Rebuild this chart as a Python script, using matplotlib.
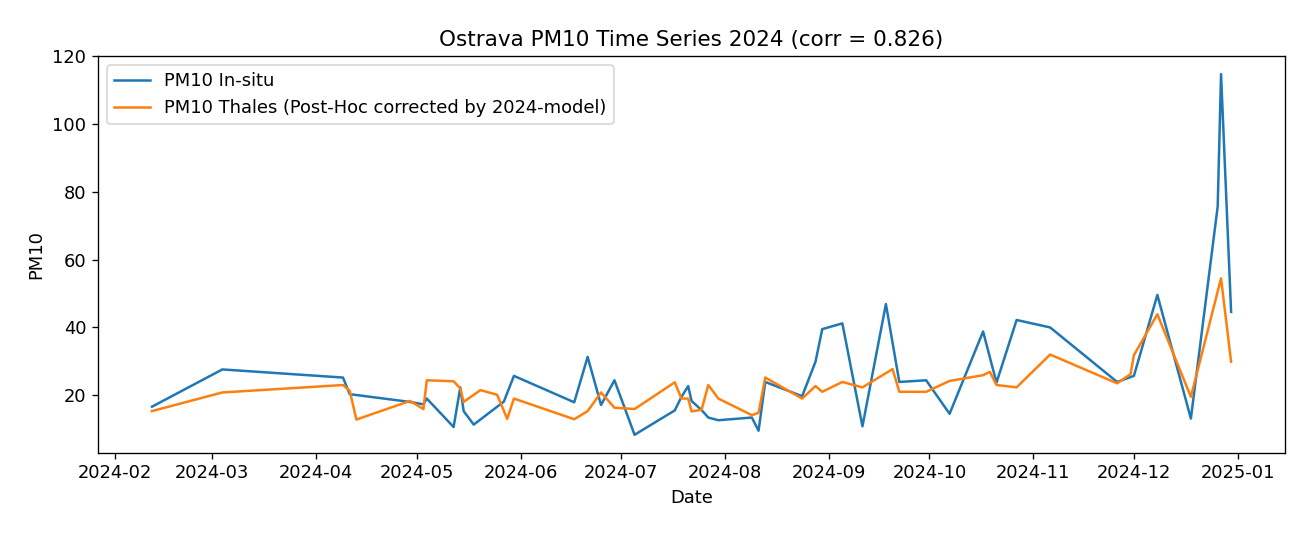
import pandas as pd
import matplotlib
matplotlib.use("Agg")
import matplotlib.pyplot as plt

# ── data ──────────────────────────────────────────────────────────────────────
insitu_dates = [
    "2024-02-12", "2024-03-04", "2024-04-09", "2024-04-11", "2024-04-29",
    "2024-05-03", "2024-05-04", "2024-05-12", "2024-05-14", "2024-05-15",
    "2024-05-18", "2024-05-27", "2024-05-30", "2024-06-17", "2024-06-21",
    "2024-06-25", "2024-06-29", "2024-07-05", "2024-07-17", "2024-07-19",
    "2024-07-21", "2024-07-22", "2024-07-25", "2024-07-27", "2024-07-30",
    "2024-08-09", "2024-08-11", "2024-08-13", "2024-08-24", "2024-08-28",
    "2024-08-30", "2024-09-05", "2024-09-11", "2024-09-18", "2024-09-22",
    "2024-09-30", "2024-10-07", "2024-10-17", "2024-10-21", "2024-10-27",
    "2024-11-06", "2024-11-26", "2024-12-01", "2024-12-08", "2024-12-18",
    "2024-12-26", "2024-12-27", "2024-12-30",
]
insitu_pm10 = [
    16.6, 27.6, 25.2, 20.3, 18.0,
    17.3, 19.0, 10.6, 22.3, 15.3,
    11.3, 18.1, 25.7, 17.9, 31.3,
    17.1, 24.4, 8.3, 15.5, 19.5,
    22.7, 18.3, 15.6, 13.4, 12.6,
    13.4, 9.5, 23.9, 19.7, 29.9,
    39.5, 41.2, 10.8, 46.9, 23.9,
    24.4, 14.5, 38.8, 23.7, 42.2,
    40.0, 23.9, 25.7, 49.6, 13.1,
    75.7, 114.8, 44.6,
]

thales_dates = [
    "2024-02-12", "2024-03-04", "2024-04-09", "2024-04-11", "2024-04-13",
    "2024-04-29", "2024-05-03", "2024-05-04", "2024-05-12", "2024-05-14",
    "2024-05-15", "2024-05-20", "2024-05-25", "2024-05-28", "2024-05-30",
    "2024-06-17", "2024-06-21", "2024-06-25", "2024-06-29", "2024-07-05",
    "2024-07-17", "2024-07-19", "2024-07-21", "2024-07-22", "2024-07-25",
    "2024-07-27", "2024-07-30", "2024-08-09", "2024-08-11", "2024-08-13",
    "2024-08-24", "2024-08-28", "2024-08-30", "2024-09-05", "2024-09-11",
    "2024-09-20", "2024-09-22", "2024-09-30", "2024-10-07", "2024-10-17",
    "2024-10-19", "2024-10-21", "2024-10-27", "2024-11-06", "2024-11-26",
    "2024-11-30", "2024-12-01", "2024-12-08", "2024-12-18", "2024-12-27",
    "2024-12-30",
]
thales_pm10 = [
    15.3, 20.8, 23.0, 21.3, 12.8,
    18.3, 15.9, 24.4, 24.1, 22.0,
    18.0, 21.5, 20.1, 13.0, 19.0,
    12.9, 15.3, 20.8, 16.3, 15.9,
    23.8, 19.0, 19.0, 15.2, 15.7,
    23.0, 19.0, 14.1, 14.8, 25.2,
    19.0, 22.7, 21.0, 23.9, 22.3,
    27.7, 21.0, 21.0, 24.2, 25.9,
    26.9, 23.0, 22.3, 32.0, 23.5,
    26.2, 31.8, 43.9, 19.5, 54.5,
    29.9,
]

CITY = "Ostrava"
YEAR = 2024
CORR = 0.826

# a touch larger than default, the reference is an upscaled screenshot
plt.rcParams["font.size"] = 10.75

# ── plot ──────────────────────────────────────────────────────────────────────
fig, ax = plt.subplots(figsize=(1300 / 120, 534 / 120), dpi=120)
fig.subplots_adjust(left=0.0754, right=0.9885, top=0.895, bottom=0.152)

ax.plot(pd.to_datetime(insitu_dates), insitu_pm10, label="PM10 In-situ")
ax.plot(pd.to_datetime(thales_dates), thales_pm10,
        label="PM10 Thales (Post-Hoc corrected by 2024-model)")

ax.set_title(f"{CITY} PM10 Time Series {YEAR} (corr = {CORR:.3f})")
ax.set_xlabel("Date")
ax.set_ylabel("PM10")
ax.legend(loc="upper left")

fig.savefig("out.png", dpi=120)
